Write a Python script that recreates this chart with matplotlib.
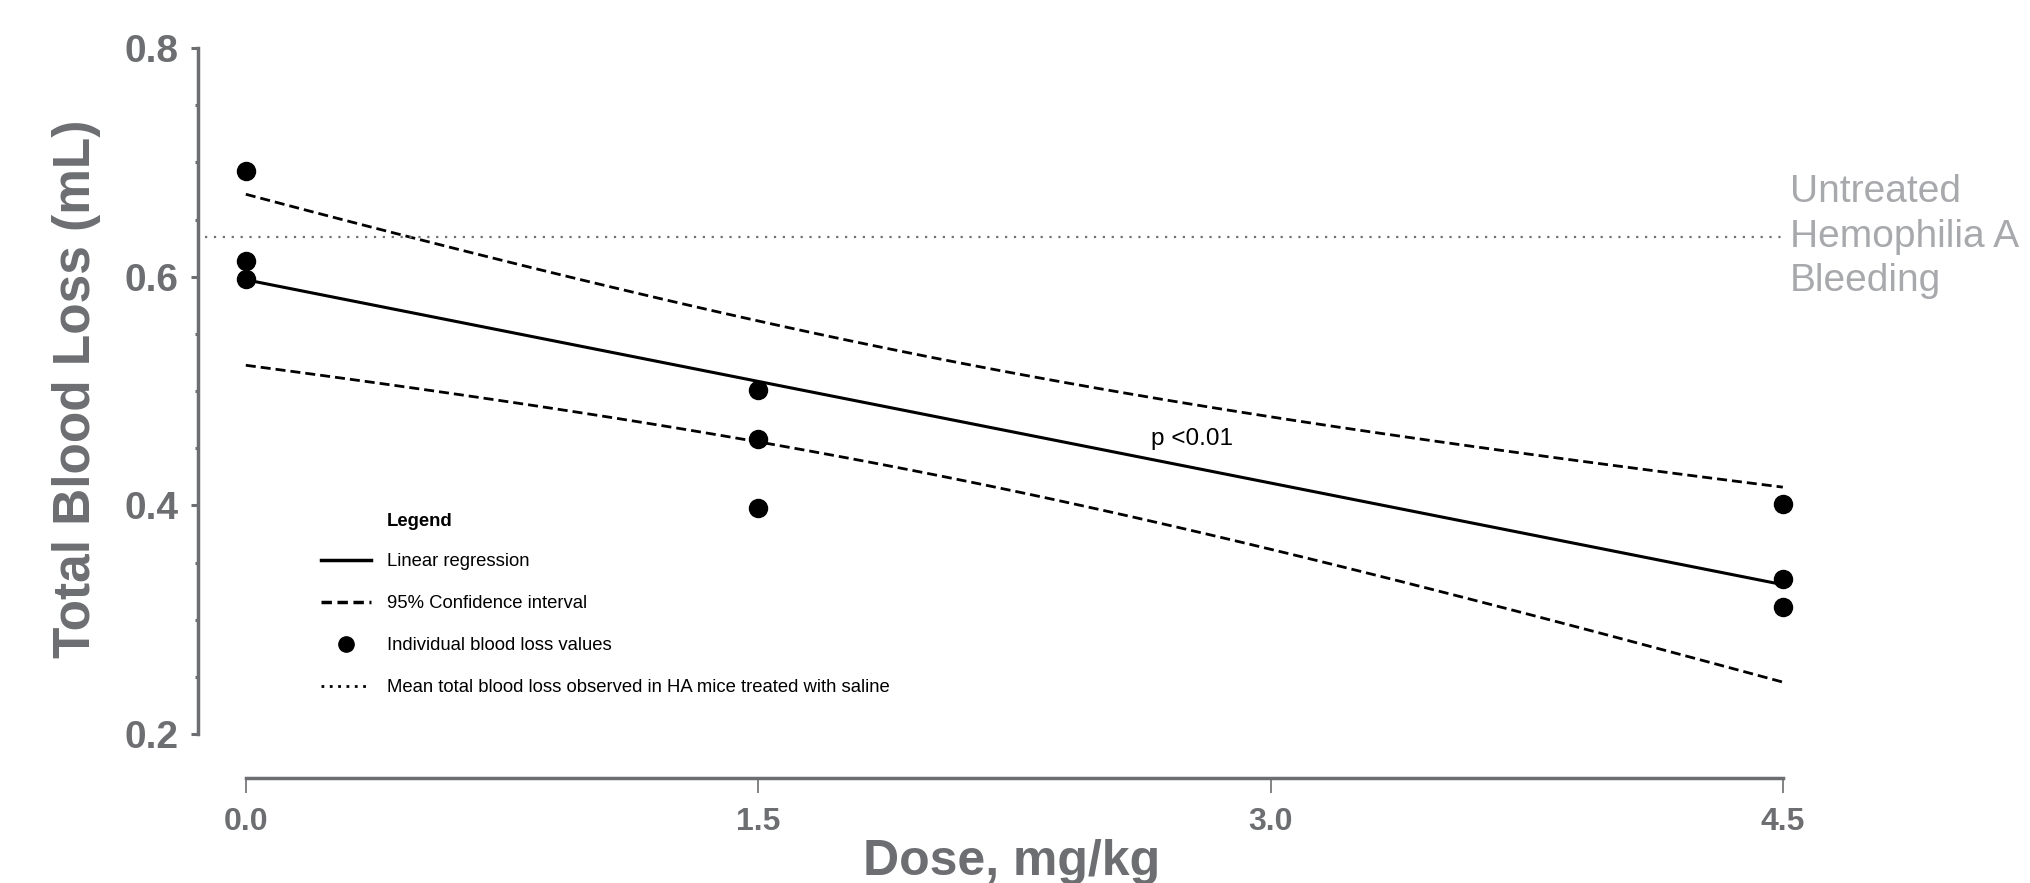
import numpy as np
import matplotlib.pyplot as plt
from matplotlib.lines import Line2D
from matplotlib.ticker import MultipleLocator

plt.rcParams['font.family'] = ['Liberation Sans', 'DejaVu Sans']

# data
dose = [0.0, 0.0, 0.0, 1.5, 1.5, 1.5, 4.5, 4.5, 4.5]
blood_loss = [0.692, 0.614, 0.598, 0.501, 0.458, 0.398, 0.401, 0.336, 0.311]
saline_mean = 0.635
x_ticks = [0.0, 1.5, 3.0, 4.5]
y_ticks = [0.2, 0.4, 0.6, 0.8]

gray = '#6d6e71'
light = '#a7a9ac'

# linear fit + 95% confidence band
x = np.array(dose)
y = np.array(blood_loss)
n = len(x)
slope, icpt = np.polyfit(x, y, 1)
resid = y - (slope * x + icpt)
s = np.sqrt(np.sum(resid ** 2) / (n - 2))
sxx = np.sum((x - x.mean()) ** 2)
t_crit = 2.365  # t(0.975, df=7)
xf = np.linspace(0, 4.5, 100)
yf = slope * xf + icpt
half = t_crit * s * np.sqrt(1 / n + (xf - x.mean()) ** 2 / sxx)

fig = plt.figure(figsize=(20.3, 8.83), dpi=100)
ax = fig.add_axes([198 / 2030, 1 - 734 / 883, 1619 / 2030, 686 / 883])

ax.plot(xf, yf, color='black', lw=2.2)
ax.plot(xf, yf + half, color='black', lw=2, linestyle=(0, (3.6, 1.8)))
ax.plot(xf, yf - half, color='black', lw=2, linestyle=(0, (3.6, 1.8)))
ax.scatter(dose, blood_loss, s=13 ** 2, color='black', zorder=3, clip_on=False)
ax.plot([-0.12, 4.5], [saline_mean, saline_mean], color='#707070', lw=1.6,
        linestyle=(0, (1, 3)))

ax.text(4.52, saline_mean, 'Untreated\nHemophilia A\nBleeding', color=light,
        fontsize=28, va='center', ha='left', linespacing=1.3, clip_on=False)
ax.text(2.65, 0.458, 'p <0.01', fontsize=17.5, va='center', ha='left')

ax.set_xlim(-0.14, 4.6)
ax.set_ylim(0.2, 0.8)

for side in ['top', 'right']:
    ax.spines[side].set_visible(False)
ax.spines['left'].set_bounds(0.2, 0.8)
ax.spines['bottom'].set_bounds(0, 4.5)
ax.spines['bottom'].set_position(('outward', 31.7))
for side in ['left', 'bottom']:
    ax.spines[side].set_color(gray)
    ax.spines[side].set_linewidth(2.5)

ax.set_xticks(x_ticks)
ax.set_xticklabels([f'{v:.1f}' for v in x_ticks])
ax.set_yticks(y_ticks)
ax.set_yticklabels([f'{v:.1f}' for v in y_ticks])
ax.yaxis.set_minor_locator(MultipleLocator(0.05))
ax.tick_params(axis='x', direction='out', length=11, width=1.2, color=gray,
               labelcolor=gray, labelsize=23, pad=10)
ax.tick_params(axis='y', which='major', direction='out', length=5, width=2.2,
               color=gray, labelcolor=gray, labelsize=28, pad=9)
ax.tick_params(axis='y', which='minor', direction='out', length=2.5, width=2.2,
               color=gray)
for lab in ax.get_xticklabels() + ax.get_yticklabels():
    lab.set_fontweight('bold')

fig.text(77 / 2030, 1 - 389 / 883, 'Total Blood Loss (mL)', rotation=90,
         ha='center', va='center', fontsize=37, fontweight='bold', color=gray)
fig.text(1012 / 2030, 1 - 875 / 883, 'Dose, mg/kg', ha='center', va='baseline',
         fontsize=36, fontweight='bold', color=gray)

# legend
handles = [
    Line2D([], [], color='black', lw=2.5),
    Line2D([], [], color='black', lw=2.5, linestyle=(0, (3, 1.6))),
    Line2D([], [], color='black', lw=0, marker='o', markersize=11),
    Line2D([], [], color='black', lw=2, linestyle=(0, (1, 2))),
]
labels = ['Linear regression', '95% Confidence interval',
          'Individual blood loss values',
          'Mean total blood loss observed in HA mice treated with saline']
fig.legend(handles, labels, loc='upper left',
           bbox_to_anchor=(321 / 2030, 1 - 553 / 883), frameon=False,
           fontsize=13.3, handlelength=2.7, handletextpad=0.85,
           labelspacing=1.36, borderpad=0, borderaxespad=0)
fig.text(387 / 2030, 1 - 521 / 883, 'Legend', fontsize=13.3, fontweight='bold',
         va='center', ha='left')

fig.savefig('out.png', dpi=100)
